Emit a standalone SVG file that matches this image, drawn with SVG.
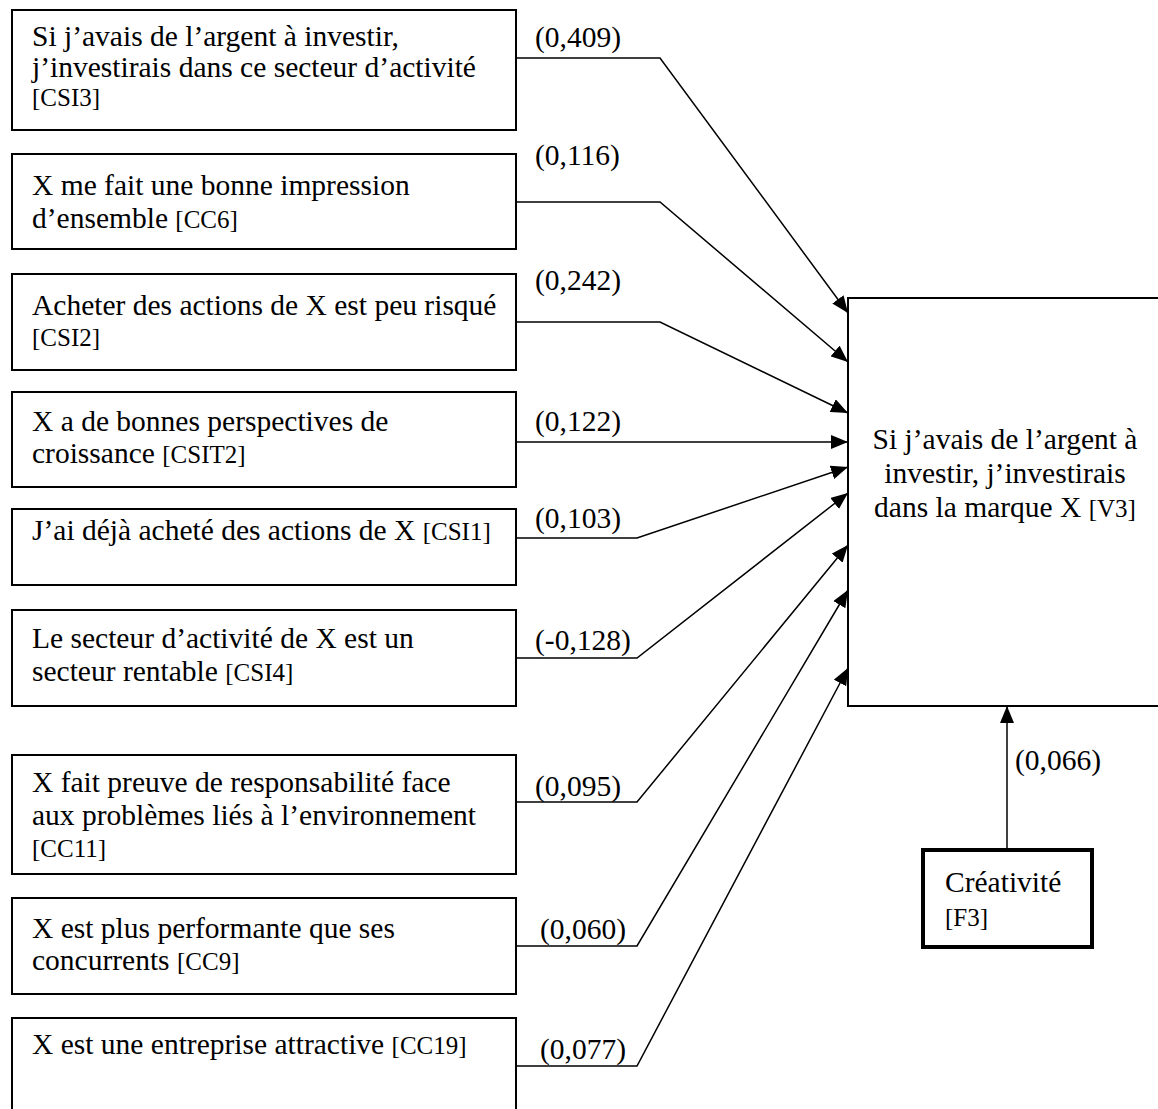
<svg xmlns="http://www.w3.org/2000/svg" width="1158" height="1109" viewBox="0 0 1158 1109">
  <style>
    .box { fill: #ffffff; stroke: #000000; stroke-width: 2; }
    .bold { fill: #ffffff; stroke: #000000; stroke-width: 4; }
    text { font-family: "Liberation Serif", "Times New Roman", serif; font-size: 29.5px; fill: #000000; }
    .tag { font-size: 25px; }
    .mid { text-anchor: middle; }
    .link { fill: none; stroke: #000000; stroke-width: 1.5; marker-end: url(#head); }
  </style>
  <defs>
    <marker id="head" markerUnits="userSpaceOnUse" markerWidth="18" markerHeight="14" refX="17" refY="7" orient="auto">
      <path d="M0,0 L17,7 L0,14 Z" fill="#000000"/>
    </marker>
  </defs>
  <rect width="1158" height="1109" fill="#ffffff"/>

  <!-- target variable -->
  <g id="v3">
    <rect class="box" x="848" y="298" width="330" height="408"/>
    <text class="mid" x="1005" y="449">Si j’avais de l’argent à</text>
    <text class="mid" x="1005" y="483">investir, j’investirais</text>
    <text class="mid" x="1005" y="517">dans la marque X <tspan class="tag">[V3]</tspan></text>
  </g>

  <!-- predictors -->
  <g id="csi3">
    <rect class="box" x="12" y="10" width="504" height="120"/>
    <text x="32" y="46">Si j’avais de l’argent à investir,</text>
    <text x="32" y="77">j’investirais dans ce secteur d’activité</text>
    <text class="tag" x="32" y="106">[CSI3]</text>
  </g>
  <g id="cc6">
    <rect class="box" x="12" y="154" width="504" height="95"/>
    <text x="32" y="195">X me fait une bonne impression</text>
    <text x="32" y="228">d’ensemble <tspan class="tag">[CC6]</tspan></text>
  </g>
  <g id="csi2">
    <rect class="box" x="12" y="274" width="504" height="96"/>
    <text x="32" y="315">Acheter des actions de X est peu risqué</text>
    <text class="tag" x="32" y="346">[CSI2]</text>
  </g>
  <g id="csit2">
    <rect class="box" x="12" y="392" width="504" height="95"/>
    <text x="32" y="431">X a de bonnes perspectives de</text>
    <text x="32" y="463">croissance <tspan class="tag">[CSIT2]</tspan></text>
  </g>
  <g id="csi1">
    <rect class="box" x="12" y="509" width="504" height="76"/>
    <text x="32" y="540">J’ai déjà acheté des actions de X <tspan class="tag">[CSI1]</tspan></text>
  </g>
  <g id="csi4">
    <rect class="box" x="12" y="610" width="504" height="96"/>
    <text x="32" y="648">Le secteur d’activité de X est un</text>
    <text x="32" y="681">secteur rentable <tspan class="tag">[CSI4]</tspan></text>
  </g>
  <g id="cc11">
    <rect class="box" x="12" y="755" width="504" height="119"/>
    <text x="32" y="792">X fait preuve de responsabilité face</text>
    <text x="32" y="825">aux problèmes liés à l’environnement</text>
    <text class="tag" x="32" y="857">[CC11]</text>
  </g>
  <g id="cc9">
    <rect class="box" x="12" y="898" width="504" height="96"/>
    <text x="32" y="938">X est plus performante que ses</text>
    <text x="32" y="970">concurrents <tspan class="tag">[CC9]</tspan></text>
  </g>
  <g id="cc19">
    <rect class="box" x="12" y="1018" width="504" height="110"/>
    <text x="32" y="1054">X est une entreprise attractive <tspan class="tag">[CC19]</tspan></text>
  </g>

  <!-- moderating factor -->
  <g id="f3">
    <rect class="bold" x="923" y="850" width="169" height="97"/>
    <text x="945" y="892">Créativité</text>
    <text class="tag" x="945" y="926">[F3]</text>
  </g>

  <!-- paths with coefficients -->
  <g id="connectors">
    <polyline class="link" points="516,58 660,58 848,313"/>
    <polyline class="link" points="516,202 660,202 848,362"/>
    <polyline class="link" points="516,322 660,322 848,413"/>
    <polyline class="link" points="516,442 848,442"/>
    <polyline class="link" points="516,538 637,538 848,467"/>
    <polyline class="link" points="516,658 637,658 848,493"/>
    <polyline class="link" points="516,802 637,802 848,545"/>
    <polyline class="link" points="516,946 637,946 848,590"/>
    <polyline class="link" points="516,1066 637,1066 848,668"/>
    <polyline class="link" points="1007,850 1007,706"/>
  </g>
  <g id="coefficients">
    <text x="535" y="47">(0,409)</text>
    <text x="535" y="165">(0,116)</text>
    <text x="535" y="290">(0,242)</text>
    <text x="535" y="431">(0,122)</text>
    <text x="535" y="528">(0,103)</text>
    <text x="535" y="650">(-0,128)</text>
    <text x="535" y="796">(0,095)</text>
    <text x="540" y="939">(0,060)</text>
    <text x="540" y="1059">(0,077)</text>
    <text x="1015" y="770">(0,066)</text>
  </g>
</svg>
